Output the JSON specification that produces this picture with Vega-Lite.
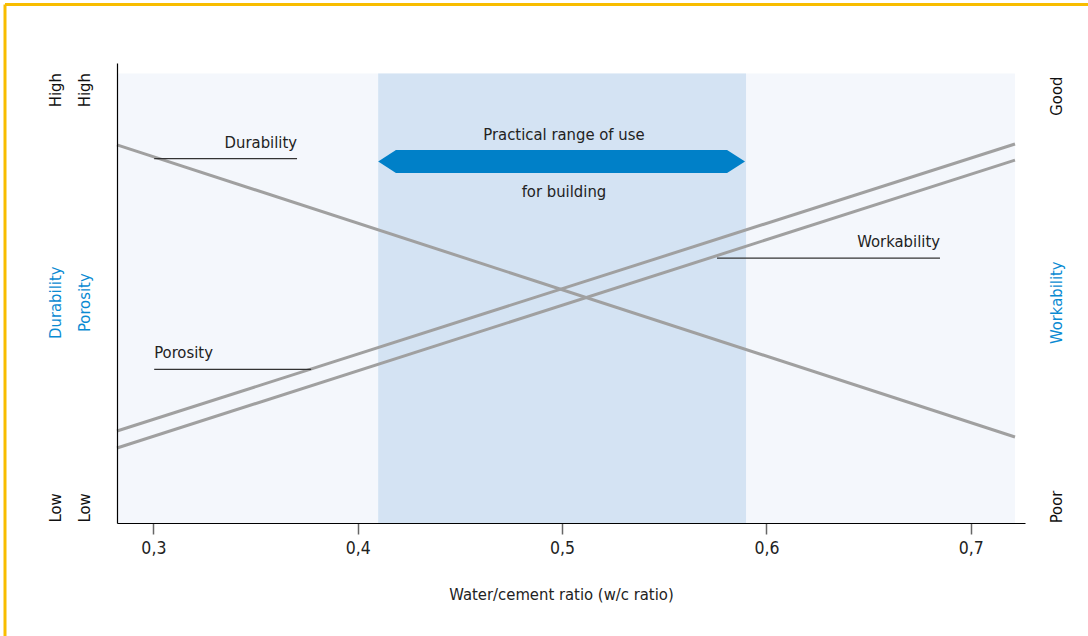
{
  "$schema": "https://vega.github.io/schema/vega-lite/v6.json",
  "width": 908,
  "height": 460,
  "autosize": {"type": "none"},
  "padding": {"left": 117, "top": 63, "right": 63, "bottom": 113},
  "background": "white",
  "config": {
    "view": {"stroke": null},
    "font": "'DejaVu Sans Condensed', sans-serif",
    "text": {"fontSize": 16.5, "color": "#222"}
  },
  "datasets": {
    "frame": [
      {"x": 0.2274, "x2": 0.76, "y": 112.7, "y2": 112.7},
      {"x": 0.2274, "x2": 0.2274, "y": 112.7, "y2": -26}
    ],
    "regions": [
      {"kind": "plot", "x": 0.2822, "x2": 0.7216, "y": 0, "y2": 97.7},
      {"kind": "range", "x": 0.41, "x2": 0.59, "y": 0, "y2": 97.7}
    ],
    "lines": [
      {"series": "Durability", "x": 0.2822, "y": 82.2},
      {"series": "Durability", "x": 0.7216, "y": 18.7},
      {"series": "Porosity", "x": 0.2822, "y": 20.0},
      {"series": "Porosity", "x": 0.7216, "y": 82.4},
      {"series": "Workability", "x": 0.2822, "y": 16.3},
      {"series": "Workability", "x": 0.7216, "y": 78.9}
    ],
    "arrow": [
      {"x": 0.41, "y": 78.6, "y2": 78.6},
      {"x": 0.4187, "y": 81.1, "y2": 76.1},
      {"x": 0.5807, "y": 81.1, "y2": 76.1},
      {"x": 0.5895, "y": 78.6, "y2": 78.6}
    ],
    "leaders": [
      {"x": 0.3004, "x2": 0.3703, "y": 79.2},
      {"x": 0.3004, "x2": 0.3772, "y": 33.4},
      {"x": 0.5758, "x2": 0.6849, "y": 57.6}
    ],
    "notesRight": [
      {"x": 0.3703, "y": 81.5, "text": "Durability"},
      {"x": 0.6849, "y": 60.1, "text": "Workability"}
    ],
    "notesLeft": [
      {"x": 0.3004, "y": 35.8, "text": "Porosity"}
    ],
    "notesCenter": [
      {"x": 0.5009, "y": 83.3, "text": "Practical range of use"},
      {"x": 0.5009, "y": 70.8, "text": "for building"}
    ]
  },
  "layer": [
    {
      "data": {"name": "frame"},
      "mark": {"type": "rule", "color": "#f8bd00", "strokeWidth": 3},
      "encoding": {
        "x": {"field": "x", "type": "quantitative", "scale": {"domain": [0.2822, 0.7265], "nice": false, "zero": false}, "axis": {"values": [0.3, 0.4, 0.5, 0.6, 0.7], "labelExpr": "replace(format(datum.value, '.1f'), '.', ',')", "title": "Water/cement ratio (w/c ratio)", "grid": false, "domainColor": "#000", "domainWidth": 1.2, "tickColor": "#666", "tickSize": 11, "tickWidth": 1.5, "labelFontSize": 17.5, "labelColor": "#222", "labelPadding": 5, "titleFontSize": 16.5, "titleFontWeight": "normal", "titleColor": "#222", "titlePadding": 30, "titleX": 444, "zindex": 1}},
        "x2": {"field": "x2"},
        "y": {"field": "y", "type": "quantitative", "scale": {"domain": [0, 100]}, "axis": null},
        "y2": {"field": "y2"}
      }
    },
    {
      "data": {"name": "regions"},
      "mark": {"type": "rect"},
      "encoding": {
        "x": {"field": "x", "type": "quantitative", "scale": {"domain": [0.2822, 0.7265], "nice": false, "zero": false}, "axis": {"values": [0.3, 0.4, 0.5, 0.6, 0.7], "labelExpr": "replace(format(datum.value, '.1f'), '.', ',')", "title": "Water/cement ratio (w/c ratio)", "grid": false, "domainColor": "#000", "domainWidth": 1.2, "tickColor": "#666", "tickSize": 11, "tickWidth": 1.5, "labelFontSize": 17.5, "labelColor": "#222", "labelPadding": 5, "titleFontSize": 16.5, "titleFontWeight": "normal", "titleColor": "#222", "titlePadding": 30, "titleX": 444, "zindex": 1}},
        "x2": {"field": "x2"},
        "y": {"field": "y", "type": "quantitative", "scale": {"domain": [0, 100]}, "axis": null},
        "y2": {"field": "y2"},
        "color": {"field": "kind", "type": "nominal", "scale": {"domain": ["plot", "range"], "range": ["#f4f7fc", "#d4e3f3"]}, "legend": null}
      }
    },
    {
      "data": {"name": "lines"},
      "transform": [{"filter": "datum.series === 'Durability'"}],
      "mark": {"type": "line", "color": "#a0a0a0", "strokeWidth": 3},
      "encoding": {
        "x": {"field": "x", "type": "quantitative", "scale": {"domain": [0.2822, 0.7265], "nice": false, "zero": false}, "axis": {"values": [0.3, 0.4, 0.5, 0.6, 0.7], "labelExpr": "replace(format(datum.value, '.1f'), '.', ',')", "title": "Water/cement ratio (w/c ratio)", "grid": false, "domainColor": "#000", "domainWidth": 1.2, "tickColor": "#666", "tickSize": 11, "tickWidth": 1.5, "labelFontSize": 17.5, "labelColor": "#222", "labelPadding": 5, "titleFontSize": 16.5, "titleFontWeight": "normal", "titleColor": "#222", "titlePadding": 30, "titleX": 444, "zindex": 1}},
        "y": {"field": "y", "type": "quantitative", "scale": {"domain": [0, 100]}, "axis": {"orient": "left", "values": [3.4, 48, 94.2], "labelExpr": "datum.value < 10 ? 'Low' : (datum.value > 90 ? 'High' : 'Durability')", "labelColor": {"condition": {"test": "datum.value > 10 && datum.value < 90", "value": "#0a8ad2"}, "value": "#111"}, "labelAngle": -90, "labelAlign": "center", "labelBaseline": "middle", "labelPadding": 62, "labelFontSize": 16.5, "labelOverlap": false, "ticks": false, "tickSize": 0, "grid": false, "domain": true, "domainColor": "#000", "domainWidth": 1.2, "title": null, "zindex": 1}}
      }
    },
    {
      "data": {"name": "lines"},
      "transform": [{"filter": "datum.series === 'Porosity'"}],
      "mark": {"type": "line", "color": "#a0a0a0", "strokeWidth": 3},
      "encoding": {
        "x": {"field": "x", "type": "quantitative", "scale": {"domain": [0.2822, 0.7265], "nice": false, "zero": false}, "axis": {"values": [0.3, 0.4, 0.5, 0.6, 0.7], "labelExpr": "replace(format(datum.value, '.1f'), '.', ',')", "title": "Water/cement ratio (w/c ratio)", "grid": false, "domainColor": "#000", "domainWidth": 1.2, "tickColor": "#666", "tickSize": 11, "tickWidth": 1.5, "labelFontSize": 17.5, "labelColor": "#222", "labelPadding": 5, "titleFontSize": 16.5, "titleFontWeight": "normal", "titleColor": "#222", "titlePadding": 30, "titleX": 444, "zindex": 1}},
        "y": {"field": "y", "type": "quantitative", "scale": {"domain": [0, 100]}, "axis": {"orient": "left", "values": [3.4, 48, 94.2], "labelExpr": "datum.value < 10 ? 'Low' : (datum.value > 90 ? 'High' : 'Porosity')", "labelColor": {"condition": {"test": "datum.value > 10 && datum.value < 90", "value": "#0a8ad2"}, "value": "#111"}, "labelAngle": -90, "labelAlign": "center", "labelBaseline": "middle", "labelPadding": 33, "labelFontSize": 16.5, "labelOverlap": false, "ticks": false, "tickSize": 0, "grid": false, "domain": false, "title": null, "zindex": 1}}
      }
    },
    {
      "data": {"name": "lines"},
      "transform": [{"filter": "datum.series === 'Workability'"}],
      "mark": {"type": "line", "color": "#a0a0a0", "strokeWidth": 3},
      "encoding": {
        "x": {"field": "x", "type": "quantitative", "scale": {"domain": [0.2822, 0.7265], "nice": false, "zero": false}, "axis": {"values": [0.3, 0.4, 0.5, 0.6, 0.7], "labelExpr": "replace(format(datum.value, '.1f'), '.', ',')", "title": "Water/cement ratio (w/c ratio)", "grid": false, "domainColor": "#000", "domainWidth": 1.2, "tickColor": "#666", "tickSize": 11, "tickWidth": 1.5, "labelFontSize": 17.5, "labelColor": "#222", "labelPadding": 5, "titleFontSize": 16.5, "titleFontWeight": "normal", "titleColor": "#222", "titlePadding": 30, "titleX": 444, "zindex": 1}},
        "y": {"field": "y", "type": "quantitative", "scale": {"domain": [0, 100]}, "axis": {"orient": "right", "values": [3.6, 48, 92.9], "labelExpr": "datum.value < 10 ? 'Poor' : (datum.value > 90 ? 'Good' : 'Workability')", "labelColor": {"condition": {"test": "datum.value > 10 && datum.value < 90", "value": "#0a8ad2"}, "value": "#111"}, "labelAngle": -90, "labelAlign": "center", "labelBaseline": "middle", "labelPadding": 31, "labelFontSize": 16.5, "labelOverlap": false, "ticks": false, "tickSize": 0, "grid": false, "domain": false, "title": null, "zindex": 1}}
      }
    },
    {
      "data": {"name": "arrow"},
      "mark": {"type": "area", "color": "#0080c8", "interpolate": "linear"},
      "encoding": {
        "x": {"field": "x", "type": "quantitative", "scale": {"domain": [0.2822, 0.7265], "nice": false, "zero": false}, "axis": {"values": [0.3, 0.4, 0.5, 0.6, 0.7], "labelExpr": "replace(format(datum.value, '.1f'), '.', ',')", "title": "Water/cement ratio (w/c ratio)", "grid": false, "domainColor": "#000", "domainWidth": 1.2, "tickColor": "#666", "tickSize": 11, "tickWidth": 1.5, "labelFontSize": 17.5, "labelColor": "#222", "labelPadding": 5, "titleFontSize": 16.5, "titleFontWeight": "normal", "titleColor": "#222", "titlePadding": 30, "titleX": 444, "zindex": 1}},
        "y": {"field": "y", "type": "quantitative", "scale": {"domain": [0, 100]}, "axis": null},
        "y2": {"field": "y2"}
      }
    },
    {
      "data": {"name": "leaders"},
      "mark": {"type": "rule", "color": "#333", "strokeWidth": 1.3},
      "encoding": {
        "x": {"field": "x", "type": "quantitative", "scale": {"domain": [0.2822, 0.7265], "nice": false, "zero": false}, "axis": {"values": [0.3, 0.4, 0.5, 0.6, 0.7], "labelExpr": "replace(format(datum.value, '.1f'), '.', ',')", "title": "Water/cement ratio (w/c ratio)", "grid": false, "domainColor": "#000", "domainWidth": 1.2, "tickColor": "#666", "tickSize": 11, "tickWidth": 1.5, "labelFontSize": 17.5, "labelColor": "#222", "labelPadding": 5, "titleFontSize": 16.5, "titleFontWeight": "normal", "titleColor": "#222", "titlePadding": 30, "titleX": 444, "zindex": 1}},
        "x2": {"field": "x2"},
        "y": {"field": "y", "type": "quantitative", "scale": {"domain": [0, 100]}, "axis": null}
      }
    },
    {
      "data": {"name": "notesRight"},
      "mark": {"type": "text", "align": "right", "baseline": "alphabetic"},
      "encoding": {
        "x": {"field": "x", "type": "quantitative", "scale": {"domain": [0.2822, 0.7265], "nice": false, "zero": false}, "axis": {"values": [0.3, 0.4, 0.5, 0.6, 0.7], "labelExpr": "replace(format(datum.value, '.1f'), '.', ',')", "title": "Water/cement ratio (w/c ratio)", "grid": false, "domainColor": "#000", "domainWidth": 1.2, "tickColor": "#666", "tickSize": 11, "tickWidth": 1.5, "labelFontSize": 17.5, "labelColor": "#222", "labelPadding": 5, "titleFontSize": 16.5, "titleFontWeight": "normal", "titleColor": "#222", "titlePadding": 30, "titleX": 444, "zindex": 1}},
        "y": {"field": "y", "type": "quantitative", "scale": {"domain": [0, 100]}, "axis": null},
        "text": {"field": "text"}
      }
    },
    {
      "data": {"name": "notesLeft"},
      "mark": {"type": "text", "align": "left", "baseline": "alphabetic"},
      "encoding": {
        "x": {"field": "x", "type": "quantitative", "scale": {"domain": [0.2822, 0.7265], "nice": false, "zero": false}, "axis": {"values": [0.3, 0.4, 0.5, 0.6, 0.7], "labelExpr": "replace(format(datum.value, '.1f'), '.', ',')", "title": "Water/cement ratio (w/c ratio)", "grid": false, "domainColor": "#000", "domainWidth": 1.2, "tickColor": "#666", "tickSize": 11, "tickWidth": 1.5, "labelFontSize": 17.5, "labelColor": "#222", "labelPadding": 5, "titleFontSize": 16.5, "titleFontWeight": "normal", "titleColor": "#222", "titlePadding": 30, "titleX": 444, "zindex": 1}},
        "y": {"field": "y", "type": "quantitative", "scale": {"domain": [0, 100]}, "axis": null},
        "text": {"field": "text"}
      }
    },
    {
      "data": {"name": "notesCenter"},
      "mark": {"type": "text", "align": "center", "baseline": "alphabetic"},
      "encoding": {
        "x": {"field": "x", "type": "quantitative", "scale": {"domain": [0.2822, 0.7265], "nice": false, "zero": false}, "axis": {"values": [0.3, 0.4, 0.5, 0.6, 0.7], "labelExpr": "replace(format(datum.value, '.1f'), '.', ',')", "title": "Water/cement ratio (w/c ratio)", "grid": false, "domainColor": "#000", "domainWidth": 1.2, "tickColor": "#666", "tickSize": 11, "tickWidth": 1.5, "labelFontSize": 17.5, "labelColor": "#222", "labelPadding": 5, "titleFontSize": 16.5, "titleFontWeight": "normal", "titleColor": "#222", "titlePadding": 30, "titleX": 444, "zindex": 1}},
        "y": {"field": "y", "type": "quantitative", "scale": {"domain": [0, 100]}, "axis": null},
        "text": {"field": "text"}
      }
    }
  ],
  "resolve": {"scale": {"y": "independent"}, "axis": {"y": "independent"}}
}
